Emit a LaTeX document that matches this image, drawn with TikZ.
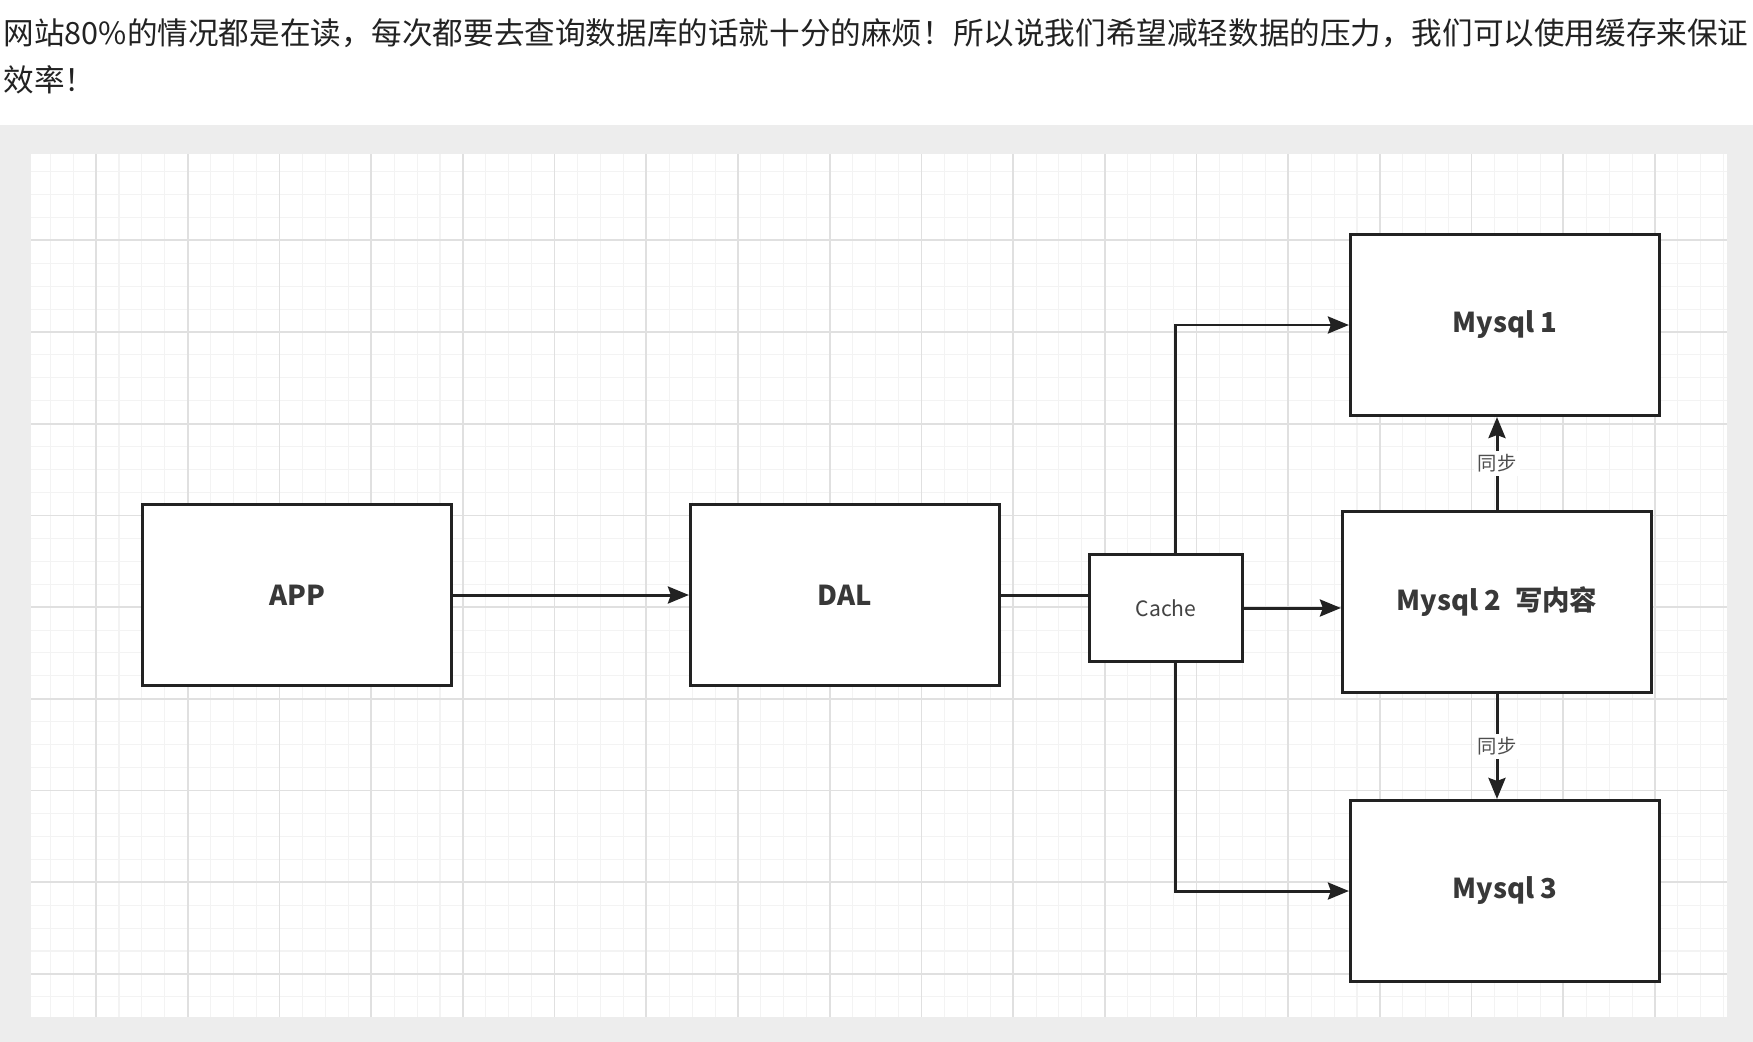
\documentclass[tikz,border=0pt]{standalone}
\usepackage{fontspec}
\setmainfont{Noto Sans CJK SC}
\newfontfamily\cjk{Noto Sans CJK SC}
\usetikzlibrary{arrows.meta}
\definecolor{panelgray}{HTML}{EDEDED}
\definecolor{gridmaj}{HTML}{E0E0E0}
\definecolor{gridmin}{HTML}{F3F3F3}
\definecolor{ink}{HTML}{222222}

\begin{document}
\begin{tikzpicture}[x=0.01cm, y=-0.01cm,
    box/.style={draw=ink, fill=white, line width=0.85pt, minimum width=3.09cm,
                minimum height=1.81cm, inner sep=0pt, text=ink!90,
                font=\cjk\bfseries\fontsize{7.8}{10}\selectfont},
    cachebox/.style={draw=ink, fill=white, line width=0.85pt, minimum width=1.53cm,
                minimum height=1.07cm, inner sep=0pt, text=ink!85,
                font=\cjk\fontsize{6}{7}\selectfont},
    syncnote/.style={fill=white, inner sep=1pt, text=ink!80,
                font=\cjk\fontsize{5.5}{6}\selectfont},
    intro/.style={anchor=base west, inner sep=0pt, text=ink,
                font=\cjk\fontsize{8.7}{13}\selectfont},
    link/.style={draw=ink, line width=0.85pt},
    arrow/.style={draw=ink, line width=0.85pt, ->, >={Stealth[length=2.1mm,width=1.7mm,inset=0.3mm]}},
    gridminor/.style={draw=gridmin, line width=0.3pt},
    gridmajor/.style={draw=gridmaj, line width=0.5pt},
]
\useasboundingbox (0,0) rectangle (1753,1042);
\fill[white] (0,0) rectangle (1753,1042);

% Texto superior
\node[intro] (line1) at (3,44) {网站80\%的情况都是在读，每次都要去查询数据库的话就十分的麻烦！所以说我们希望减轻数据的压力，我们可以使用缓存来保证};
\node[intro] (line2) at (3,91) {效率！};

% Lienzo con cuadricula
\fill[panelgray] (0,125) rectangle (1753,1042);
\fill[white] (31,154) rectangle (1727,1017);
\foreach \i in {-2,...,71}
    \draw[gridminor] ({96.1+22.925*\i},154) -- ({96.1+22.925*\i},1017);
\foreach \i in {-7,...,29}
    \draw[gridminor] (31,{332+22.925*\i}) -- (1727,{332+22.925*\i});
\foreach \i in {0,...,17}
    \draw[gridmajor] ({96.1+91.7*\i},154) -- ({96.1+91.7*\i},1017);
\foreach \i in {-1,...,7}
    \draw[gridmajor] (31,{332+91.7*\i}) -- (1727,{332+91.7*\i});

% Cajas
\node[box] (app) at (297,595) {APP};
\node[box] (dal) at (845,595) {DAL};
\node[cachebox] (cache) at (1166,608) {Cache};
\node[box] (my1) at (1505,325) {Mysql 1};
\node[box] (my2) at (1497,602) {Mysql 2\hspace{0.5em}写内容};
\node[box] (my3) at (1505,891) {Mysql 3};

% Flechas
\draw[arrow] (app) -- (dal);
\draw[link] (dal.east) -- (dal.east -| cache.west);
\draw[arrow] ([xshift=0.09cm]cache.north) |- (my1.west);
\draw[arrow] ([xshift=0.09cm]cache.south) |- (my3.west);
\draw[arrow] (cache.east) -- (cache.east -| my2.west);

% Sincronizacion
\draw[arrow] (my2.north) -- node[syncnote] {同步} (my2.north |- my1.south);
\draw[arrow] (my2.south) -- node[syncnote] {同步} (my2.south |- my3.north);

\end{tikzpicture}
\end{document}
